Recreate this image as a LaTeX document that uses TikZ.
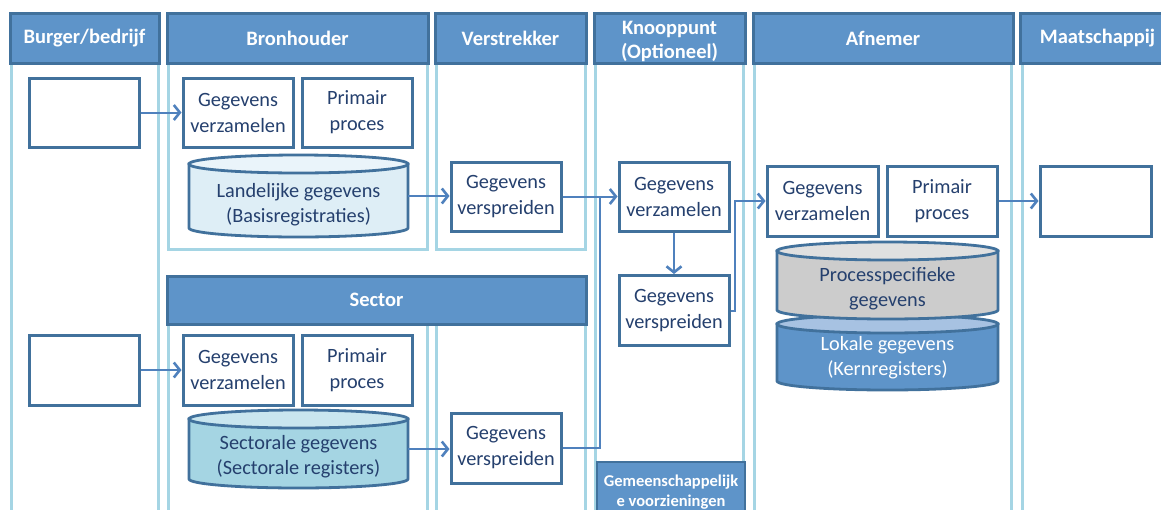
\documentclass[tikz,border=0pt]{standalone}
\usepackage{fontspec}
\setmainfont{Carlito}
\usetikzlibrary{arrows.meta}
\definecolor{headfill}{RGB}{94,148,201}
\definecolor{headdraw}{RGB}{65,113,156}
\definecolor{lanec}{RGB}{165,213,228}
\definecolor{txtc}{RGB}{37,64,110}
\definecolor{arrc}{RGB}{79,129,189}
\definecolor{cylAbody}{RGB}{222,238,246}
\definecolor{cylAtop}{RGB}{234,244,250}
\definecolor{cylBbody}{RGB}{165,213,227}
\definecolor{cylBtop}{RGB}{201,230,239}
\definecolor{cylCbody}{RGB}{204,204,204}
\definecolor{cylCtop}{RGB}{224,224,224}
\definecolor{cylDbody}{RGB}{94,148,201}
\definecolor{cylDtop}{RGB}{167,194,226}
\newcommand\dbcyl[7]{%
 \filldraw[cylline, fill=#5] ({#1-#2},{-#3}) -- ({#1-#2},{-#4}) arc[start angle=180,end angle=360,x radius=#2,y radius=#7] -- ({#1+#2},{-#3}) -- cycle;
 \filldraw[cylline, fill=#6] (#1,{-#3}) ellipse[x radius=#2, y radius=#7];
}
\begin{document}
\begin{tikzpicture}[x=1pt,y=1pt,
  lane/.style={draw=lanec, line width=3pt},
  head/.style={draw=headdraw, fill=headfill, line width=3pt, text=white, align=center,
    font=\bfseries\fontsize{20.5}{24}\selectfont, inner sep=0pt},
  headtext/.style={text=white, align=center, font=\bfseries\fontsize{20.5}{24}\selectfont, inner sep=0pt},
  procbox/.style={draw=headdraw, fill=white, line width=3pt, text=txtc, align=center,
    font=\fontsize{20.3}{26}\selectfont, minimum width=110, minimum height=69, inner sep=0pt},
  cylline/.style={draw=headdraw, line width=2.8pt},
  cyltext/.style={align=center, font=\fontsize{20.3}{25}\selectfont, text=txtc, inner sep=0pt},
  cylarea/.style={inner sep=0pt, minimum width=219},
  conn/.style={draw=arrc, line width=2pt},
  arr/.style={conn, -{Straight Barb[length=6pt,width=15pt,line width=2.6pt]}}
]
\clip (0,0) rectangle (1161,-509);
\fill[white] (0,0) rectangle (1161,-509);

% lanes
\draw[lane] (11,-63) -- (11,-520);
\draw[lane] (158,-63) -- (158,-520);
\draw[lane] (168,-63) rectangle (427,-249);
\draw[lane] (436,-63) rectangle (585,-249);
\draw[lane] (168,-324) -- (168,-520);
\draw[lane] (427,-324) -- (427,-520);
\draw[lane] (436,-324) -- (436,-520);
\draw[lane] (585,-324) -- (585,-520);
\draw[lane] (595,-63) -- (595,-520);
\draw[lane] (743,-63) -- (743,-520);
\draw[lane] (754,-63) -- (754,-520);
\draw[lane] (1011,-63) -- (1011,-520);
\draw[lane] (1022,-63) -- (1022,-520);

% headers
\node[head, minimum width=149, minimum height=50] (hBurger) at (84.5,-38) {Burger/bedrijf};
\node[head, minimum width=261, minimum height=50] (hBron) at (297.5,-38) {Bronhouder};
\node[head, minimum width=151, minimum height=50] (hVerstr) at (510.5,-38) {Verstrekker};
\node[head, minimum width=151, minimum height=50] (hKnoop) at (669.5,-38) {};
\node[headtext] (hKnoopT) at (669.5,-41) {Knooppunt\\(Optioneel)};
\node[head, minimum width=260, minimum height=50] (hAfn) at (883,-38) {Afnemer};
\node[head, minimum width=155, minimum height=50] (hMaat) at (1097.5,-38) {Maatschappij};
\node[head, minimum width=419, minimum height=48] (hSector) at (376.5,-300) {Sector};
\node[head, line width=2pt, minimum width=148, minimum height=60,
  font=\bfseries\fontsize{16.5}{20}\selectfont] (hGem) at (671,-492) {Gemeenschappelijk\\e voorzieningen};

% boxes
\node[procbox] (burger1) at (84,-112.5) {};
\node[procbox] (bv1) at (238,-112.5) {Gegevens\\verzamelen};
\node[procbox] (bp1) at (357,-112.5) {Primair\\proces};
\node[procbox] (vv1) at (506,-196.5) {Gegevens\\verspreiden};
\node[procbox] (kv) at (674,-196.5) {Gegevens\\verzamelen};
\node[procbox, minimum height=70] (kv2) at (674,-310.5) {Gegevens\\verspreiden};
\node[procbox, minimum width=111, minimum height=70] (av) at (822.5,-201) {Gegevens\\verzamelen};
\node[procbox, minimum height=70] (ap) at (942,-201) {Primair\\proces};
\node[procbox, minimum width=111, minimum height=70] (maat) at (1095.5,-201) {};
\node[procbox, minimum height=70] (burger2) at (84,-370) {};
\node[procbox, minimum height=70] (sv1) at (238,-370) {Gegevens\\verzamelen};
\node[procbox, minimum height=70] (sp1) at (357,-370) {Primair\\proces};
\node[procbox, minimum height=70] (vv2) at (506,-448) {Gegevens\\verspreiden};

% cylinders
\dbcyl{298.5}{109.5}{164}{228}{cylAbody}{cylAtop}{9}
\node[cylarea, minimum height=64] (cylL) at (298.5,-196) {};
\node[cyltext] (cylLt) at (298.5,-204.5) {Landelijke gegevens\\(Basisregistraties)};

\dbcyl{298.5}{109.5}{419}{479}{cylBbody}{cylBtop}{9}
\node[cylarea, minimum height=60] (cylS) at (298.5,-449) {};
\node[cyltext] (cylSt) at (298.5,-456.5) {Sectorale gegevens\\(Sectorale registers)};

\dbcyl{887.5}{110.5}{324}{381}{cylDbody}{cylDtop}{9}
\node[cylarea, minimum width=221, minimum height=57] (cylK) at (887.5,-352.5) {};
\node[cyltext, text=white] (cylKt) at (887.5,-357.5) {Lokale gegevens\\(Kernregisters)};

\dbcyl{887.5}{110.5}{251}{310}{cylCbody}{cylCtop}{9}
\node[cylarea, minimum width=221, minimum height=59] (cylP) at (887.5,-280.5) {};
\node[cyltext] (cylPt) at (887.5,-288.5) {Processpecifieke\\gegevens};

% connectors
\coordinate (jn) at (600,-196.5);
\coordinate (jk) at (735,-310.5);
\draw[arr] (burger1.east) -- (bv1.west);
\draw[arr] (burger2.east) -- (sv1.west);
\draw[arr] (cylL.east) -- (cylL.east -| vv1.west);
\draw[arr] (cylS.east) -- (cylS.east -| vv2.west);
\draw[arr] (vv1.east) -- (kv.west);
\draw[conn] (vv2.east) -| (jn);
\draw[arr] (kv.south) -- (kv2.north);
\draw[arr] (kv2.east) -- (jk) |- (av.west);
\draw[arr] (ap.east) -- (maat.west);
\end{tikzpicture}
\end{document}
